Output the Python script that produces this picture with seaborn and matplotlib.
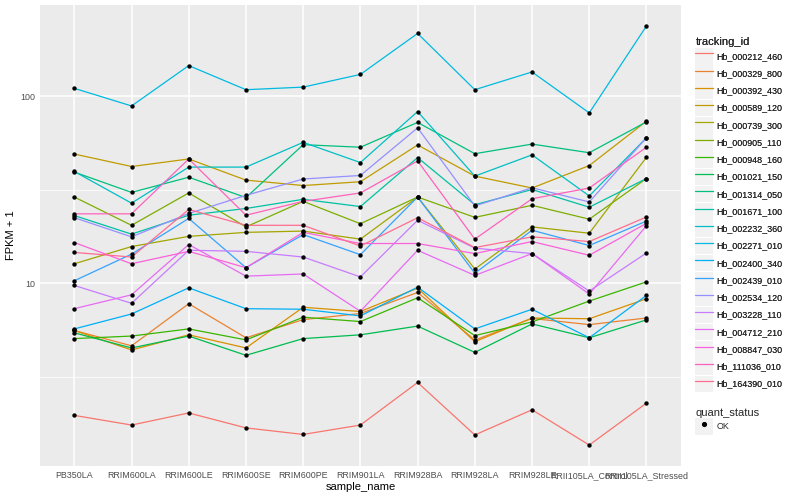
import matplotlib
matplotlib.use("Agg")
import matplotlib.pyplot as plt
from matplotlib.legend_handler import HandlerLine2D
from matplotlib.lines import Line2D
from matplotlib.patches import Rectangle
from matplotlib.ticker import FixedLocator, FuncFormatter, NullFormatter
import numpy as np
import pandas as pd
import seaborn as sns


samples = [
    "PB350LA", "RRIM600LA", "RRIM600LE", "RRIM600SE", "RRIM600PE", "RRIM901LA",
    "RRIM928BA", "RRIM928LA", "RRIM928LE", "RRII105LA_Control", "RRII105LA_Stressed",
]

tracking_ids = [
    "Hb_000212_460", "Hb_000329_800", "Hb_000392_430", "Hb_000589_120",
    "Hb_000739_300", "Hb_000905_110", "Hb_000948_160", "Hb_001021_150",
    "Hb_001314_050", "Hb_001671_100", "Hb_002232_360", "Hb_002271_010",
    "Hb_002400_340", "Hb_002439_010", "Hb_002534_120", "Hb_003228_110",
    "Hb_004712_210", "Hb_008847_030", "Hb_111036_010", "Hb_164390_010",
]

# ggplot default hue palette for 20 levels
palette = [
    "#F8766D", "#EA8331", "#D89000", "#C09B00", "#A3A500", "#7CAE00", "#39B600",
    "#00BB4E", "#00BF7D", "#00C1A3", "#00BFC4", "#00BAE0", "#00B0F6", "#35A2FF",
    "#9590FF", "#C77CFF", "#E76BF3", "#FA62DB", "#FF62BC", "#FF6C91",
]

# FPKM + 1 per sample
hb_000212_460 = [1.96, 1.74, 2.02, 1.68, 1.55, 1.74, 2.94, 1.54, 2.10, 1.36, 2.28]
hb_000329_800 = [5.58, 4.62, 7.76, 5.10, 6.38, 6.88, 8.92, 4.96, 6.47, 6.00, 6.51]
hb_000392_430 = [5.58, 4.39, 5.29, 4.50, 7.43, 7.05, 9.40, 4.86, 6.51, 6.45, 8.25]
hb_000589_120 = [49.1, 42.1, 46.2, 35.6, 33.3, 34.9, 54.9, 37.4, 32.3, 42.6, 73.6]
hb_000739_300 = [12.7, 15.7, 17.8, 18.7, 19.0, 17.2, 28.9, 11.9, 20.0, 18.5, 47.2]
hb_000905_110 = [28.9, 20.4, 30.4, 20.0, 27.4, 20.8, 28.9, 22.5, 26.1, 22.0, 36.3]
hb_000948_160 = [5.05, 5.21, 5.69, 4.97, 6.57, 6.23, 8.35, 5.24, 6.20, 8.02, 10.16]
hb_001021_150 = [5.42, 4.50, 5.21, 4.11, 5.05, 5.29, 5.89, 4.26, 6.05, 5.10, 6.36]
hb_001314_050 = [39.3, 30.6, 36.9, 28.7, 55.1, 53.4, 72.5, 49.3, 55.5, 49.9, 73.0]
hb_001671_100 = [23.0, 18.3, 23.1, 25.1, 28.1, 25.7, 47.0, 26.3, 31.7, 25.5, 36.3]
hb_002232_360 = [39.6, 26.8, 41.8, 41.8, 56.7, 44.2, 82.9, 37.4, 48.6, 29.3, 60.0]
hb_002271_010 = [110.3, 88.8, 146.0, 108.5, 112.0, 131.0, 217.0, 108.5, 135.0, 81.5, 238.0]
hb_002400_340 = [5.69, 6.84, 9.44, 7.30, 7.25, 6.68, 9.52, 5.69, 7.25, 5.10, 8.60]
hb_002439_010 = [10.3, 14.3, 22.2, 12.1, 18.2, 14.2, 28.9, 11.3, 19.2, 15.9, 21.5]
hb_002534_120 = [22.4, 17.7, 23.6, 29.5, 36.1, 37.7, 67.8, 25.9, 32.4, 27.2, 60.0]
hb_003228_110 = [9.72, 7.80, 15.0, 14.8, 13.8, 10.8, 21.7, 15.4, 14.4, 9.07, 14.5]
hb_004712_210 = [7.30, 8.66, 16.1, 10.9, 11.2, 7.07, 15.0, 11.0, 14.4, 8.74, 20.3]
hb_008847_030 = [16.5, 12.7, 14.8, 12.1, 18.7, 16.3, 16.3, 14.4, 16.7, 14.1, 20.9]
hb_111036_010 = [23.5, 23.5, 46.2, 23.1, 27.4, 30.4, 45.1, 17.2, 28.3, 32.3, 53.4]
hb_164390_010 = [14.6, 13.8, 24.8, 20.4, 20.4, 15.8, 22.4, 15.5, 17.7, 16.7, 22.6]

series = [
    hb_000212_460, hb_000329_800, hb_000392_430, hb_000589_120, hb_000739_300,
    hb_000905_110, hb_000948_160, hb_001021_150, hb_001314_050, hb_001671_100,
    hb_002232_360, hb_002271_010, hb_002400_340, hb_002439_010, hb_002534_120,
    hb_003228_110, hb_004712_210, hb_008847_030, hb_111036_010, hb_164390_010,
]


class KeyHandler(HandlerLine2D):
    """Legend key with the grey ggplot key background."""

    def create_artists(self, legend, orig_handle, xdescent, ydescent,
                       width, height, fontsize, trans):
        bg = Rectangle((-xdescent, -ydescent), width, height,
                       facecolor="#F2F2F2", edgecolor="none", transform=trans)
        arts = super().create_artists(legend, orig_handle, xdescent, ydescent,
                                      width, height, fontsize, trans)
        return [bg] + list(arts)


rows = []
for tid, vals in zip(tracking_ids, series):
    for s, v in zip(samples, vals):
        rows.append({"tracking_id": tid, "sample_name": s,
                     "fpkm1": v, "quant_status": "OK"})
df = pd.DataFrame(rows)

sns.set_theme(style="darkgrid")
plt.rcParams["font.family"] = ["Liberation Sans", "DejaVu Sans"]

fig = plt.figure(figsize=(8, 5), dpi=100)
ax = fig.add_axes([0.05, 0.068, 0.801, 0.922])
ax.set_facecolor("#EBEBEB")

sns.lineplot(data=df, x="sample_name", y="fpkm1", hue="tracking_id",
             hue_order=tracking_ids, palette=palette, estimator=None,
             sort=False, linewidth=0.9, ax=ax, legend=False)
sns.scatterplot(data=df, x="sample_name", y="fpkm1", color="black", s=10,
                linewidth=0, ax=ax, legend=False, zorder=3)

ax.set_yscale("log")
lo = np.log10(df["fpkm1"].min())
hi = np.log10(df["fpkm1"].max())
pad = 0.05 * (hi - lo)
ax.set_ylim(10 ** (lo - pad), 10 ** (hi + pad))
ax.set_xlim(-0.6, len(samples) - 0.4)

ax.yaxis.set_major_locator(FixedLocator([1, 10, 100, 1000]))
ax.yaxis.set_major_formatter(FuncFormatter(lambda v, p: f"{v:g}"))
ax.yaxis.set_minor_locator(FixedLocator([10 ** 0.5, 10 ** 1.5, 10 ** 2.5]))
ax.yaxis.set_minor_formatter(NullFormatter())

ax.grid(which="major", color="white", linewidth=1.1)
ax.grid(which="minor", axis="y", color="white", linewidth=0.55)
ax.grid(which="minor", axis="x", visible=False)
for sp in ax.spines.values():
    sp.set_visible(False)

ax.tick_params(axis="both", which="major", length=2.2, width=0.6,
               color="#333333", labelsize=6.4, labelcolor="#4D4D4D", pad=1.5)
ax.tick_params(axis="both", which="minor", length=0)
ax.set_xlabel("sample_name", fontsize=8, labelpad=1.5, color="black")
ax.set_ylabel("FPKM + 1", fontsize=8, labelpad=3, color="black")

key_opts = dict(frameon=False, fontsize=6.4, title_fontsize=8,
                alignment="left", handlelength=1.95, handleheight=2.5,
                labelspacing=0.07, handletextpad=0.4, borderaxespad=0,
                borderpad=0.2)

handles = [Line2D([], [], color=c, linewidth=0.9) for c in palette]
leg1 = fig.legend(handles, tracking_ids, title="tracking_id",
                  loc="upper left", bbox_to_anchor=(0.867, 0.929),
                  handler_map={Line2D: KeyHandler()}, **key_opts)
fig.add_artist(leg1)

ok_handle = Line2D([], [], color="black", marker="o", markersize=2.7,
                   linestyle="none")
fig.legend([ok_handle], ["OK"], title="quant_status",
           loc="upper left", bbox_to_anchor=(0.867, 0.188), numpoints=1,
           handler_map={Line2D: KeyHandler(numpoints=1)}, **key_opts)

fig.savefig("out.png", dpi=100, facecolor="white")
